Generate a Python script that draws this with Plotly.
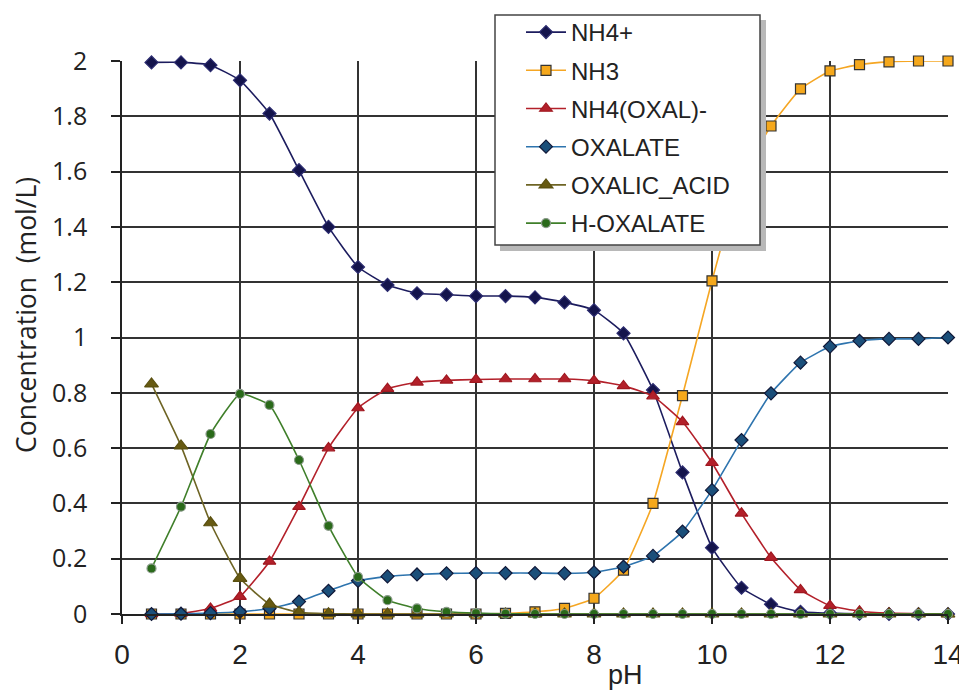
import plotly.graph_objects as go

ph = [0.5, 1, 1.5, 2, 2.5, 3, 3.5, 4, 4.5, 5, 5.5, 6, 6.5, 7, 7.5, 8, 8.5, 9, 9.5, 10,
      10.5, 11, 11.5, 12, 12.5, 13, 13.5, 14]

nh4 = [1.995, 1.995, 1.985, 1.93, 1.81, 1.605, 1.40, 1.255, 1.19, 1.16, 1.155, 1.15, 1.15, 1.145,
       1.127, 1.099, 1.015, 0.81, 0.512, 0.24, 0.095, 0.035, 0.008, 0.003, 0.001, 0, 0, 0]
nh3 = [0, 0, 0, 0, 0, 0, 0, 0, 0, 0, 0, 0, 0.002, 0.008, 0.02, 0.057, 0.159, 0.40, 0.79, 1.205,
       1.58, 1.765, 1.899, 1.964, 1.987, 1.997, 2.0, 2.0]
nh4_oxal = [0.0, 0.002, 0.02, 0.063, 0.19, 0.388, 0.60, 0.745, 0.815, 0.838, 0.845, 0.848, 0.85, 0.85,
            0.85, 0.844, 0.825, 0.788, 0.695, 0.547, 0.364, 0.204, 0.087, 0.03, 0.01, 0.003, 0.001, 0]
oxalate = [0.0, 0.001, 0.003, 0.008, 0.02, 0.045, 0.084, 0.12, 0.136, 0.143, 0.147, 0.148, 0.148, 0.148,
           0.147, 0.151, 0.171, 0.21, 0.298, 0.448, 0.629, 0.798, 0.909, 0.967, 0.988, 0.995, 0.995, 1.0]
oxalic_acid = [0.832, 0.608, 0.33, 0.129, 0.036, 0.006, 0.001, 0, 0, 0, 0, 0, 0, 0,
               0, 0, 0, 0, 0, 0, 0, 0, 0, 0, 0, 0, 0, 0]
h_oxalate = [0.165, 0.388, 0.651, 0.796, 0.756, 0.557, 0.319, 0.134, 0.05, 0.02, 0.008, 0.003, 0.001, 0,
             0, 0, 0, 0, 0, 0, 0, 0, 0, 0, 0, 0, 0, 0]

x_ticks = [0, 2, 4, 6, 8, 10, 12, 14]
y_ticks = [0, 0.2, 0.4, 0.6, 0.8, 1, 1.2, 1.4, 1.6, 1.8, 2]
y_tick_text = ["0", "0.2", "0.4", "0.6", "0.8", "1", "1.2", "1.4", "1.6", "1.8", "2"]

series = [
    ("NH4+", nh4, "#1c1c5e", "diamond", 10, "#14144c", "#2c2c70"),
    ("NH3", nh3, "#f5a623", "square", 10, "#f5a81c", "#333333"),
    ("NH4(OXAL)-", nh4_oxal, "#b3202a", "triangle-up", 11, "#b3202a", "#a01820"),
    ("OXALATE", oxalate, "#2e74ae", "diamond", 10, "#1b4f7a", "#101838"),
    ("OXALIC_ACID", oxalic_acid, "#6e6424", "triangle-up", 12, "#675a12", "#5a5010"),
    ("H-OXALATE", h_oxalate, "#3f7f2a", "circle", 9, "#2a6a1a", "#8a9a8a"),
]

fig = go.Figure()
for i, (name, vals, lc, sym, sz, fc, bc) in enumerate(series):
    fig.add_trace(go.Scatter(
        x=ph, y=vals, name=name, mode="lines+markers",
        line=dict(color=lc, width=1.6, shape="spline", smoothing=0.4),
        marker=dict(symbol=sym, size=sz, color=fc, line=dict(color=bc, width=1.2)),
        cliponaxis=False, legendgroup="g%d" % i,
    ))

# the page body adds an 8px offset; figure size and margins compensate for it
OFF = 8
W, H = 967 - OFF, 693 - OFF
L, R, T, B = 122 - OFF, 19, 61 - OFF, 79
pw, ph_ = W - L - R, H - T - B

def px(x):  # window pixel -> paper x
    return (x - OFF - L) / pw

def py(y):  # window pixel -> paper y
    return (H - B - (y - OFF)) / ph_

# legend frame with shadow
fig.add_shape(type="rect", xref="paper", yref="paper",
              x0=px(500), x1=px(766), y0=py(251), y1=py(20),
              fillcolor="#b8b8b8", line=dict(width=0), layer="above")
fig.add_shape(type="rect", xref="paper", yref="paper",
              x0=px(495), x1=px(760), y0=py(245), y1=py(15),
              fillcolor="white", line=dict(color="#444444", width=1.5), layer="above")

fig.add_annotation(text="Concentration  (mol/L)", xref="paper", yref="paper",
                   x=px(26), y=py(315), xanchor="center", yanchor="middle",
                   textangle=-90, showarrow=False,
                   font=dict(family="Open Sans", size=26.5, color="#222222"))
fig.add_annotation(text="pH", xref="paper", yref="paper",
                   x=px(625), y=py(675), xanchor="center", yanchor="middle", showarrow=False,
                   font=dict(family="Liberation Sans", size=27, color="#222222"))

fig.update_layout(
    width=W, height=H,
    margin=dict(l=L, r=R, t=T, b=B, pad=0, autoexpand=False),
    paper_bgcolor="white", plot_bgcolor="white",
    showlegend=True,
    legend=dict(xref="container", yref="container",
                x=(521 - OFF) / W, y=1 - 2 / H, xanchor="left", yanchor="top",
                bgcolor="rgba(0,0,0,0)", borderwidth=0,
                font=dict(family="Liberation Sans", size=24, color="#222222"),
                tracegroupgap=4, itemwidth=40),
    xaxis=dict(range=[0, 14], tickvals=x_ticks, ticktext=[str(v) for v in x_ticks],
               showgrid=True, gridcolor="#333333", gridwidth=1.6,
               showline=True, linecolor="#222222", linewidth=1.6,
               ticks="outside", ticklen=8, tickcolor="#222222", tickwidth=1.5,
               ticklabelstandoff=7, zeroline=False, automargin=False,
               tickfont=dict(family="Liberation Sans Narrow, Arial Narrow, sans-serif", size=28, color="#222222")),
    yaxis=dict(range=[0, 2], tickvals=y_ticks, ticktext=y_tick_text,
               showgrid=True, gridcolor="#333333", gridwidth=1.6,
               showline=True, linecolor="#222222", linewidth=1.6,
               ticks="outside", ticklen=9, tickcolor="#222222", tickwidth=1.5,
               ticklabelstandoff=19, zeroline=False, automargin=False,
               tickfont=dict(family="Open Sans", size=25, color="#222222")),
)

fig.write_html("out.html")
